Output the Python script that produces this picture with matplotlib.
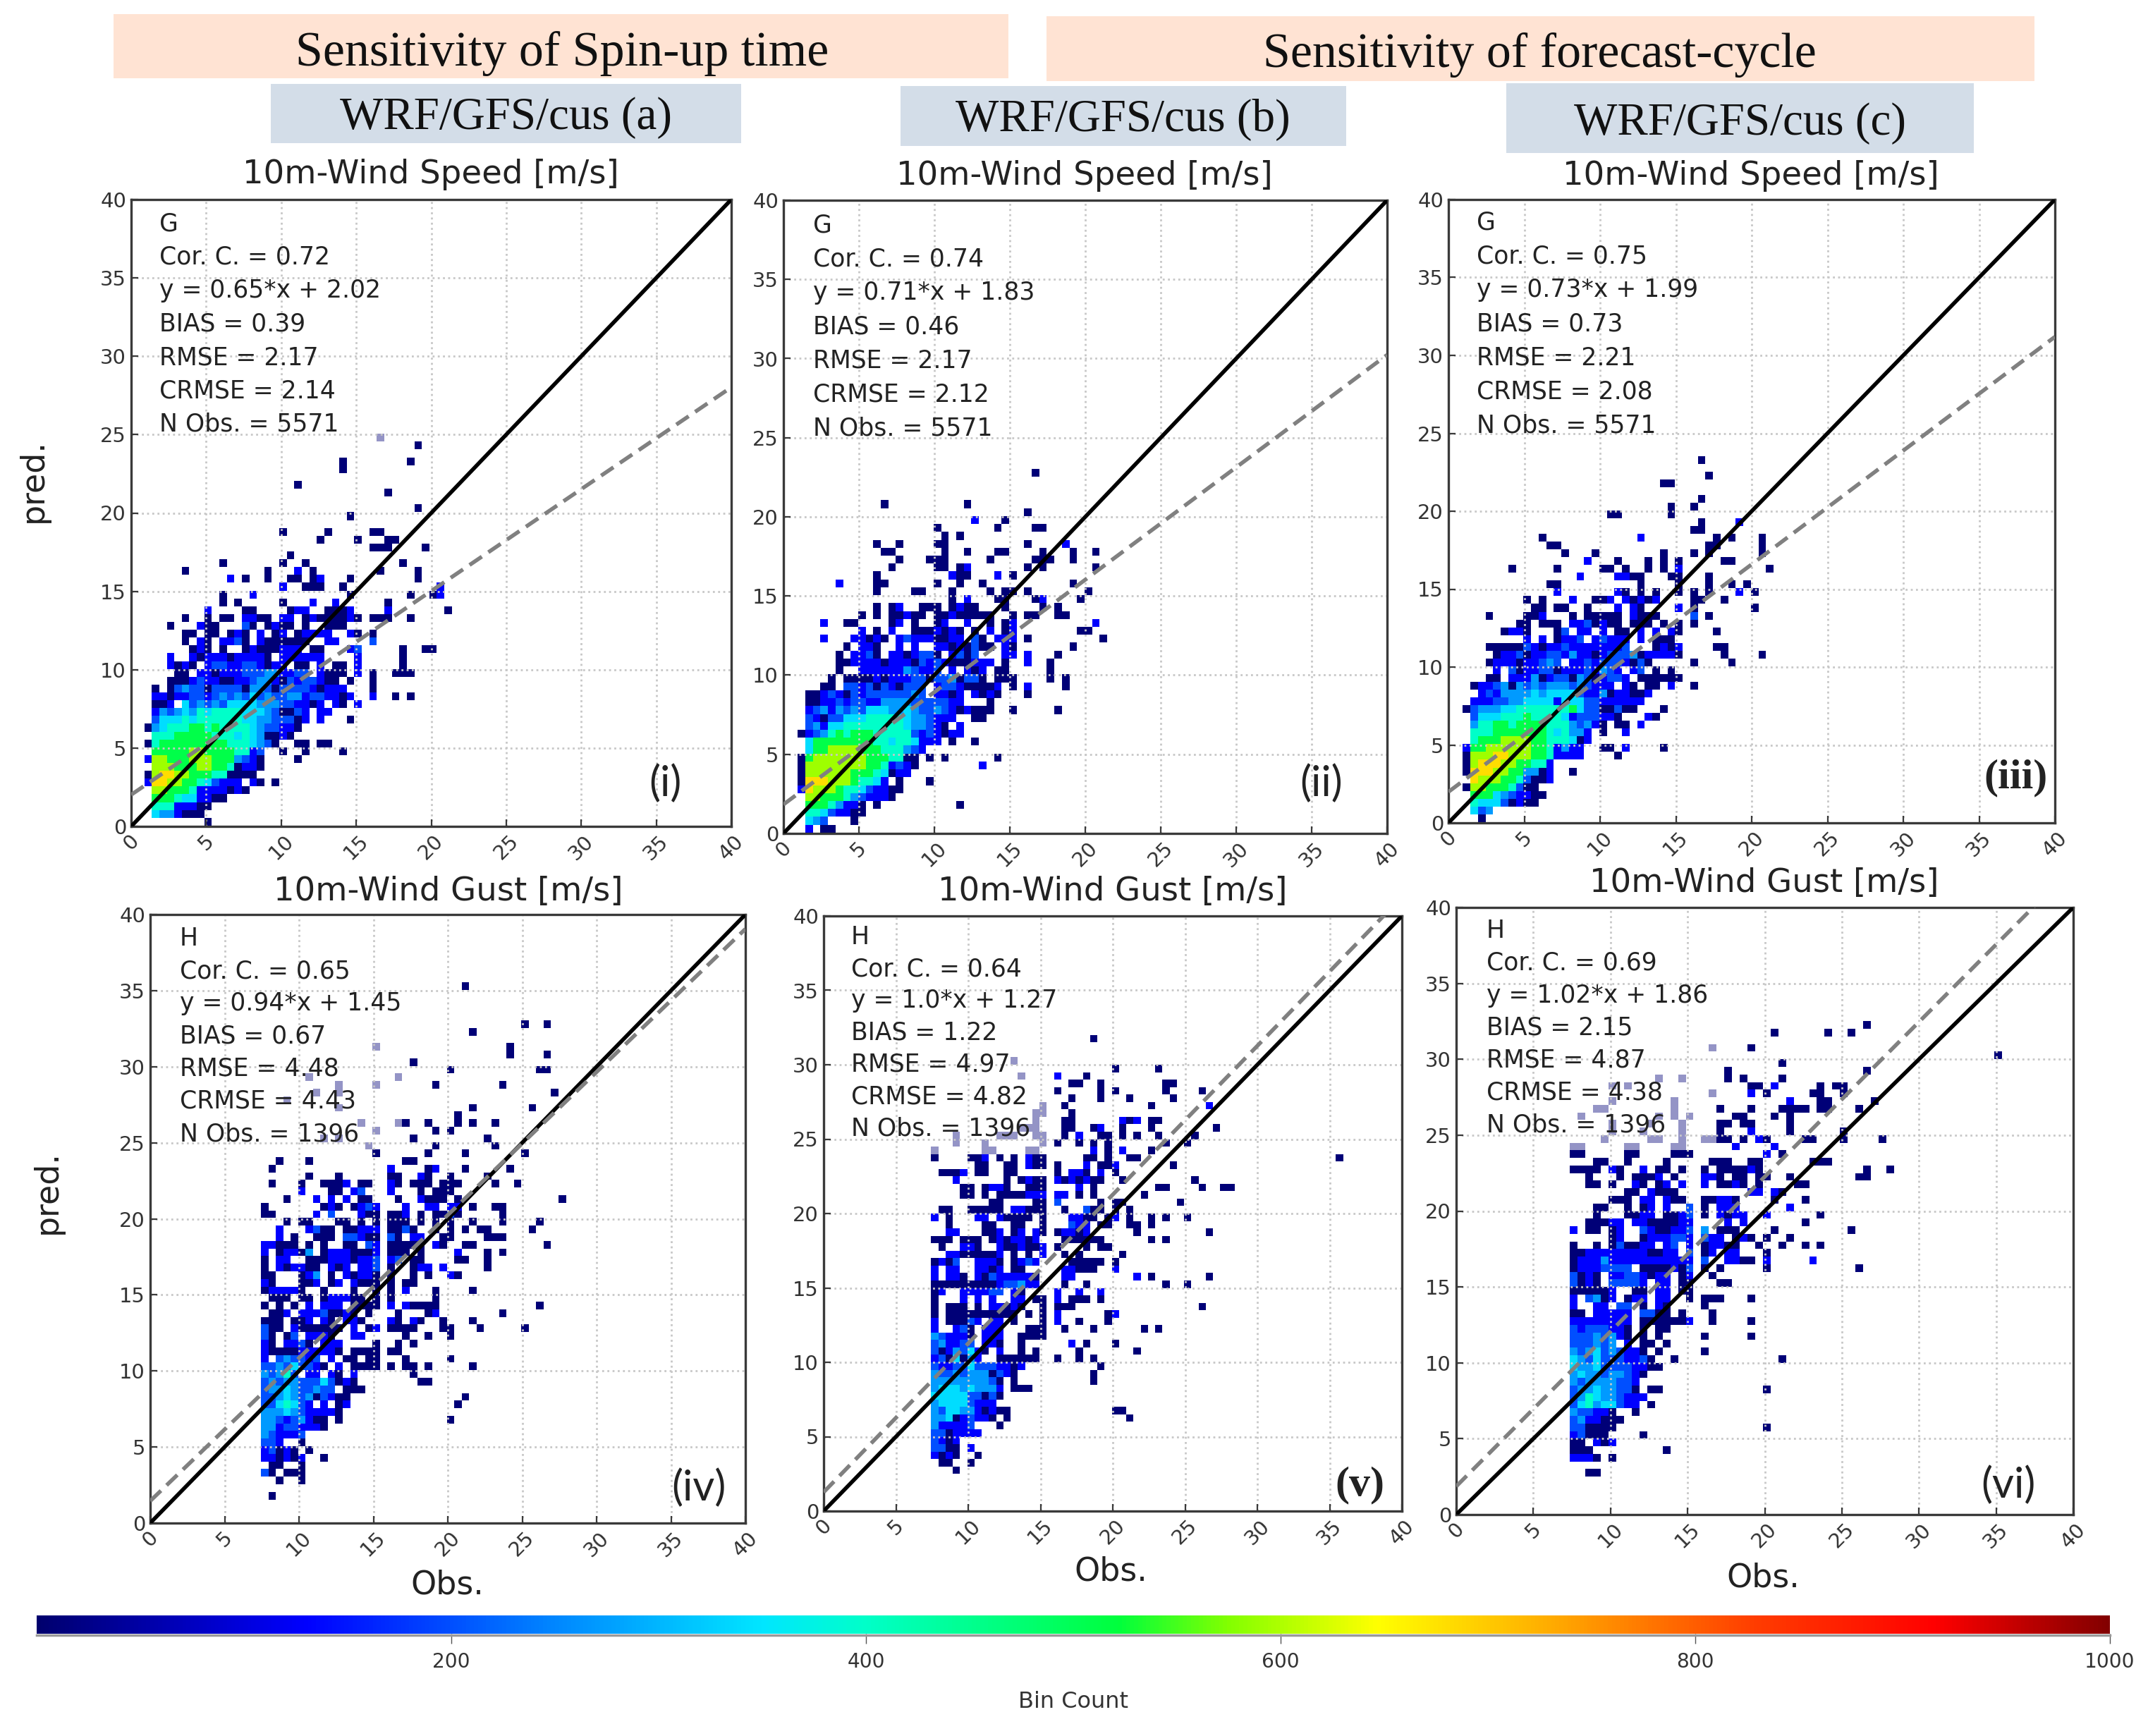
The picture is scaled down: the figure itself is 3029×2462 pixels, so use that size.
import numpy as np
import matplotlib
matplotlib.use("Agg")
import matplotlib.pyplot as plt
from matplotlib.colors import LinearSegmentedColormap
from matplotlib.lines import Line2D
from matplotlib.patches import Rectangle

W, H = 3029, 2462

# Bin counts. Each row: {row: "column:levels ..."}; a level is a colour class.
LEVEL_COUNTS = {"1": 8, "2": 130, "3": 200, "4": 270, "5": 340, "6": 400, "7": 510, "8": 590, "9": 680, "a": 8}

bins_i = {
48: "31:a", 47: "36:1", 45: "26:1 35:1", 44: "26:1", 42: "20:1", 41: "32:1", 39: "36:1", 38: "27:1",
36: "18:1 24:1 30:11", 35: "23:1 28:1 32:11", 34: "30:111 37:1", 33: "19:1", 32: "10:1 18:1 21:1 34:1",
31: "5:1 16:1 20:2 22:1 31:1 36:1", 30: "11:2 13:1 16:1 19:11 22:12 27:1 36:1", 29: "18:2 21:111 26:1 39:2",
28: "10:1 14:2 27:1 35:1 38:12", 27: "10:1 12:1 18:1 22:2 25:2 32:1",
26: "8:2 13:11 19:1 20:22 24:1112 32:2 40:1", 25: "5:1 8:1 10:11 13:2211 18:22 21:1 22:211 25:11 27:21 30:111 35:1",
24: "3:1 7:2 8:11 13:31 16:12 18:11 21:1 24:111", 23: "5:11 8:11 11:12 13:1 15:2 17:12 20:12222 27:21 30:1",
22: "5:1 7:21 10:2231 15:2111111 24:22 30:3", 21: "6:121 10:1 13:12111222 22:11 27:23 34:1 37:11",
20: "3:2 6:21 8:222122221 18:22 20:2222 28:2 34:1", 19: "3:2121 8:23322332122 20:11 23:2 25:11 28:2 34:1",
18: "4:11 7:221222333442233 23:2 24:111 28:2 30:1 33:111", 17: "3:111 6:23221122344213233211 27:1 30:1",
16: "1:1 3:134331333314431333321222 30:1", 15: "1:221223323434353433442332212 30:2 33:1 35:1",
14: "1:112 5:5343435555444332212 25:21 28:2", 13: "1:243454656666555431132 23:22",
12: "1:355565666666554433312 23:2 27:1", 11: "0:145666776766665433221",
10: "1:6667777766656541121", 9: "0:167777777776665431 20:11 23:11",
8: "1:777778877776623 18:1 21:1 26:1", 7: "0:2887778887774321 20:1",
6: "1:888777887761221", 5: "0:189988777661111", 4: "0:2998877653222 14:21 17:1",
3: "1:8877762222121", 2: "1:7776552211", 1: "1:66622211", 0: "1:5442111", -1: "8:1",
}

bins_ii = {
45: "31:1", 41: "11:1 22:1", 40: "30:1", 39: "23:2 27:1", 38: "18:1 26:1 31:11", 37: "19:1 21:1",
36: "10:1 13:1 18:11 30:1 35:2", 35: "11:11 19:1 22:1 26:11 32:1 36:1 39:1", 34: "13:1 17:111 25:1 31:111 36:1",
33: "12:1 18:11 21:1 22:2 30:1 32:1 39:1", 32: "10:1 20:211 26:2 28:1", 31: "5:2 10:11 18:1 21:1 24:1 36:1",
30: "10:1 15:11 20:1 25:1 27:11 30:1 38:1", 29: "20:1 22:2 26:11 31:1 32:2 37:1",
28: "10:1 12:12 16:111 20:1 21:211 27:1 32:1 34:1", 27: "8:1 10:1 12:11211 18:11211111 28:1 30:11 34:11",
26: "3:2 6:11 12:12 15:1 18:12 22:2 25:1 27:12 39:2", 25: "8:2 10:1 12:2 15:111 18:2121 23:1 25:2 27:12 37:11",
24: "3:2 7:22121 13:232221122 23:31 26:222 30:1 40:1", 23: "6:1 8:221 13:2 15:2 18:22121311 27:21 36:1",
22: "5:1 7:2231 12:2212 16:331 20:2313 27:22 30:2 34:1", 21: "5:112222122213232111222 27:1 30:2 33:1",
20: "5:1 8:222222 14:43223 20:2 22:212 26:11 33:1", 19: "4:1 6:1111212223313341331 26:111 33:1 35:1",
18: "3:11 6:33231321333 18:233211112 28:1 30:2 35:1", 17: "1:1123213233333343 18:2212 23:2121 30:1",
16: "1:112232332244443333322 25:1", 15: "1:2342434355544543343212111 28:1 34:1",
14: "1:32133555666665443222 23:11", 13: "1:3425566666666544321 21:2",
12: "0:1234676777666663232122", 11: "1:577777777665665222 20:1 23:1",
10: "1:5778888777666432", 9: "0:1788888887776611 17:1 19:1 26:1",
8: "0:1888888887762321 24:2", 7: "0:188888877765122",
6: "0:19998887665 11:2 13:1 17:1", 5: "0:29888766532211",
4: "1:887776432221", 3: "1:777 4:64 6:22 8:1 10:1 21:1", 2: "1:66532211", 1: "1:543 7:1", 0: "1:2 3:11",
}

bins_iii = {
46: "31:1", 44: "32:1", 43: "26:11", 41: "31:1", 40: "27:1 30:1", 39: "19:11 27:1", 38: "31:1 36:2", 37: "30:11",
36: "10:1 23:2 33:1 35:1 39:1", 35: "11:11 32:11 39:1", 34: "13:1 17:1 26:1 30:1 32:1 39:1",
33: "16:2 20:1 24:1 26:1 28:1 34:11", 32: "6:1 12:1 18:11 21:1 24:1 26:1 28:2 40:1", 31: "15:2 20:22 22:11 27:11 32:1",
30: "11:11 23:1 28:1 32:1 35:1 37:1", 29: "12:2 20:21 23:1 25:1 28:1 30:1 32:1 36:2 38:1",
28: "8:1 10:1 14:2 17:11 19:2 21:21 23:212 30:11 34:1", 27: "9:11 12:11 16:1 20:2 22:2 23:1 28:2 30:1 38:1",
26: "3:1 8:1 9:12 14:1 16:11 18:111 22:2 23:1 24:11 30:3 32:1", 25: "7:11 10:111 14:22 16:31 18:21 20:1 22:1 23:11 26:1 28:1 30:1",
24: "5:1 6:22 8:1 12:1 13:3 15:22 18:2 20:11 23:2 25:2 27:21 33:1", 23: "8:2 10:2 12:1 13:223 17:2 18:3 19:22 21:2 23:2 25:111",
22: "3:11111 8:321 11:223 14:22 16:22222 21:3 25:121 28:2 33:11", 21: "4:1223122332422123334122221 34:1 39:1",
20: "3:1222122343 14:2232333213 24:1 30:1 35:1", 19: "4:2 6:31 8:22 10:33 12:1 13:222 16:32432 22:23 25:1 27:1",
18: "3:11 6:2224123314312332 23:1 24:11111", 17: "1:1223414343444343222 21:21 24:11 27:2 30:1",
16: "2:23244445455553224122112", 15: "1:22233445555255533222222", 14: "0:13444556666666753311311 26:1",
13: "1:35556667666652333221 24:21", 12: "1:466776777766643421 20:11 23:2",
11: "1:6667777777656442 18:1 21:2", 10: "1:6777888877666512",
9: "0:2778888887762422 18:11 21:2 26:1", 8: "0:1888998887762222 20:1",
7: "0:189998877662", 6: "0:199988774412 14:1",
5: "1:98887763112", 4: "0:1887776311", 3: "1:7775432211", 2: "1:655531211", 1: "1:534", 0: "2:1",
}

bins_iv = {
67: "27:1", 62: "35:1 38:1", 61: "28:1", 59: "15:a 33:1", 58: "33:1 38:1", 57: "20:1", 56: "25:1 37:11",
55: "6:a 18:a", 54: "10:a 15:a 23:1 32:1", 53: "7:a 10:a 39:1", 52: "3:a", 51: "10:a 28:1 36:1", 50: "26:1",
49: "13:a 18:a 19:1 22:1 26:1 28:1 31:1", 48: "15:a 23:1 25:1", 47: "8:a 10:a 20:1 30:1", 46: "14:a 23:1 31:1",
45: "15:1 22:1 27:1 35:1", 44: "2:1 6:1 19:11", 43: "1:1 17:2 22:12 27:1 33:1", 42: "6:1 10:1 17:11 21:21 25:1 30:1",
41: "1:1 5:1 8:11 10:12 13:11 17:21 20:111 24:11 26:1 31:1 34:1", 40: "5:2 9:11 12:23 17:2 21:1 23:111",
39: "3:1 7:2 9:2 11:2 13:11 18:1 21:21 23:11 26:1 40:1", 38: "0:1 8:1 9:21 12:1232 19:2 22:22 25:22 28:1 31:11",
37: "0:11 7:2 9:3 13:21 15:1 17:11 19:2 21:1 23:1 24:1 25:31 32:1", 36: "3:1 5:11 10:11 13:1 15:1 17:111 21:1 23:1 25:1 28:1 32:1 37:1",
35: "2:2 6:231 8:11 11:11 13:22 15:2 17:113 20:1 23:1 25:1 27:1 29:11 36:1", 34: "2:2 4:1 7:11 9:1 11:33 13:21 15:1 17:3 18:1 20:22 24:1 25:1 30:111",
33: "0:22 2:111 6:1 8:1 11:1 12:1 14:3 15:2 17:111 20:11 23:2 24:1 27:11 38:1",
32: "0:2 2:1 3:22 5:1 6:4 8:1 9:2221 13:11 15:2 17:1 18:1 19:1 21:1 26:2 30:1 32:1",
31: "0:1 2:22 6:11 8:1 9:22 11:21 13:223 17:23 20:11 26:11 30:1", 30: "0:1 2:21 4:22 6:11 9:21 11:2 13:223 17:1 20:1 21:22 24:2 30:1",
29: "0:11 5:1 6:24 9:1 11:21 13:221 17:1 20:1 22:1 25:21", 28: "0:21 5:112 9:12 12:2 13:111 17:1 19:11",
27: "0:12222 5:1 8:1 12:1 15:1 17:1 19:2 23:1 28:1", 26: "1:111 5:11 8:1 9:2 10:2 11:2 12:11 15:1 17:1 23:1",
25: "0:1 2:1 4:1 6:2 8:2 9:22 12:11 14:11 17:2 19:21111 37:1", 24: "1:112 5:222 8:3 9:112 12:1 14:1 18:1 22:1 23:2 32:1",
23: "0:111 4:11 6:2 8:21 11:22 13:1 17:21 20:21 24:1 28:1", 22: "0:311 4:21 6:111 9:11 12:2 14:12 17:111 20:1 24:11 29:1 35:1",
21: "0:31 3:13 6:222 9:1 12:22 19:1 22:1 25:1", 20: "0:21 3:223 6:1 8:222 15:1 18:1 20:1", 19: "0:21111 5:222 8:221 12:1111 17:11",
18: "0:2 2:3433 6:23 9:2 11:1 12:1 14:11 19:1 25:1", 17: "0:334353 6:321 10:2 12:111 15:1 17:1 19:11 22:1 28:1",
16: "0:434 3:63 6:22 9:21 12:2 20:1", 15: "0:343443 6:335 9:31 11:21 21:11", 14: "0:344 3:543 6:343 9:3 11:111",
13: "0:33454341 8:321 11:1 27:1", 12: "0:3356532 8:2 10:12 26:1", 11: "0:444 3:543 6:22221 10:1",
10: "0:443 3:234 6:211 10:1 25:1", 9: "0:44233 5:2221", 8: "0:432223", 7: "0:33 2:2 5:1", 6: "0:23 2:12 4:1 6:1",
5: "0:22 2:12 4:12 8:1", 4: "1:11 5:1", 3: "0:31 3:111", 2: "2:1 5:1", 0: "1:1",
}

bins_v = {
58: "22:1", 55: "11:a", 54: "25:1 31:1", 53: "12:a 17:2 21:1", 52: "19:11 23:1 32:11", 51: "17:1 23:1 25:1 32:1 37:1",
50: "19:1 23:1 27:1 33:1", 49: "15:a 18:1 30:1 38:2", 48: "14:aa 19:1", 47: "14:a 18:11 26:2 27:1 28:2 30:11",
46: "12:aaa 18:11 22:12 26:1 30:1 39:1", 45: "3:a 9:aaa 14:aa 18:1 20:2 23:11 26:1 28:1 31:1 36:1",
44: "3:a 7:a 15:a 17:1 20:1 22:1 24:1 32:1 35:1", 43: "0:a 7:aa 13:aa 22:2 24:1 26:2 30:1",
42: "0:1 5:112 9:1 11:1 13:211 21:11 24:1 27:11 56:1", 41: "6:11 10:11 13:211 17:1 21:2 23:112 33:1",
40: "1:1112 6:11 10:11 17:1 19:221 23:2 25:1", 39: "3:2 10:1 12:1 13:2 14:11 17:212 20:1 21:211 26:1 36:1",
38: "4:11 7:1 8:221 13:111 20:2 22:1 31:11 37:1 40:11", 37: "4:11 7:1 9:111 12:12 14:22 17:22 20:1 22:1 29:1",
36: "8:11 14:11 17:3 23:1 25:11 34:1", 35: "1:11 5:11111 11:22 13:111 18:1 21:311 25:1 27:1",
34: "0:2 2:1 6:22 9:21 11:111 15:1 19:221 22:1 24:12 27:1 30:1 32:1 35:1", 33: "2:1 7:11 11:11 15:1 19:32 21:2 23:11 27:11 30:1",
32: "2:22 7:11 9:2 11:12 14:21 17:1 18:22 20:12 28:1 38:1", 31: "0:111 4:111 8:1 9:2122 13:12 18:11 20:1111 30:1 32:1",
30: "1:1 4:221 9:211 12:2 13:11 15:2 17:1 21:1 23:11", 29: "2:22 4:11111 9:2 11:1 13:1 15:2 18:1 20:1 26:1",
28: "0:1213 6:22 8:21 11:1 12:232 19:11 21:111 25:1", 27: "0:2 2:22 6:22 8:12 11:1 12:1 18:22 20:111 25:2",
26: "0:2 2:221 6:213 9:222 12:22 14:1 18:22 28:2 30:1 38:1", 25: "0:11111 5:1111 9:23342 14:2 18:1 21:1 32:1 35:1",
24: "0:12 4:2222 8:33 11:2 12:1 17:2 20:2 23:2", 23: "0:1 4:2 6:2 8:2 11:22 14:11 17:2 19:111 23:1",
22: "0:1 2:111 6:1 8:221 11:21 15:1 17:11 19:1 37:1", 21: "0:1 2:1111 6:1 7:11 9:1 10:11 13:1 15:1 17:2 24:1 25:2",
20: "0:2 2:1113 6:2 8:22 11:1 15:1 17:2 20:1 24:1", 19: "0:2 3:231 7:222 13:11 15:1 18:1 22:1 29:1 31:1",
18: "0:4322 4:21 7:222 12:1 13:111", 17: "0:3422 4:33 7:221 12:1 19:2 21:1 25:1", 16: "0:3124 4:3521 9:2 12:1 14:1 20:1 28:1",
15: "0:2315 4:142 9:1111 13:11 17:1 20:1 22:1", 14: "0:3223 4:35 6:3332 10:2 11:1 12:2 23:1",
13: "0:4334 4:344 7:4 8:132 11:1 22:1", 12: "0:4444 4:4 5:444 8:31 11:1 22:1", 11: "0:4555 4:454 7:442 11:111",
10: "0:5555 4:5 5:331 8:31", 9: "0:455553222", 8: "0:4355 4:442 7:1 8:2 9:11 25:11", 7: "0:4451 4:232 7:21 10:1 27:1",
6: "0:422223 9:1", 5: "0:3312222", 4: "0:3212", 3: "0:3311 5:2", 2: "0:2121 6:1", 1: "1:11 5:1", 0: "3:1",
}

bins_vi = {
59: "38:1", 58: "26:1 33:1 36:1", 56: "18:a 23:1", 55: "55:1", 54: "27:1", 53: "20:1 38:1",
52: "11:a 14:a 20:1 22:1 27:1", 51: "5:a 7:a 23:11 26:2 32:1 34:11", 50: "18:a 23:2 25:1 31:11 35:1",
49: "5:a 13:a 28:2 32:11 39:1", 48: "3:aa 13:a 19:1 23:1 27:1 28:111 32:11 37:1", 47: "1:a 11:a 13:a 15:a 21:11 26:1 28:1",
46: "5:a 10:a 14:a 19:11 22:11 28:1", 45: "5:a 9:a 14:a 19:1 23:2 28:1 35:1", 44: "4:a 10:aa 14:a 17:aa 19:11 22:1 24:21 30:11 35:1 40:1",
43: "0:aa 7:aa 13:aa 21:2 26:2", 42: "0:11 7:11 13:11 15:1 25:2 27:1", 41: "3:11 7:1 12:1 18:111 23:11 31:111",
40: "0:111 3:1 5:21 9:2 11:11 14:1 17:1 19:1111 23:21 38:1 41:1", 39: "2:1 6:1 8:111 11:2 13:1 17:22 19:1 21:11 24:11 28:1 37:11",
38: "2:11 5:1 8:21 11:1 12:2 14:2 17:2 19:11 21:21 24:1 29:11", 37: "7:11 10:2 11:111 23:22 26:21",
36: "5:111 9:22 12:21 14:1 17:1 18:1 19:221 26:1 30:1", 35: "3:11 7:1 9:12 12:2 15:3 17:1 19:22 21:2 28:2",
34: "3:1 7:112 10:2 12:11 14:23 17:1 19:212 22:2 25:2 32:1", 33: "2:11122 8:22 10:1111 14:22 20:2 22:2 30:1",
32: "0:2 2:11 5:12 9:32 11:11 13:223 17:4 19:111 26:1 36:1", 31: "5:12 9:1222 13:332 17:322 21:1 22:21 25:1 28:1",
30: "0:1 3:1 5:13 7:11 9:22 12:23 15:2 17:1 18:22 20:11 24:1 27:1 30:1 32:1", 29: "0:11222 5:2222 9:2112 13:2 15:3 17:1 18:2 20:22 25:1",
28: "0:1 1:222 4:4 5:2222 9:2222 13:2 14:22 17:3 20:22 22:11 25:2 31:2", 27: "0:1 1:22 3:2 4:33 6:33 9:1111 13:21 15:3 17:1 19:1 25:1 37:1",
26: "0:312 3:1 5:22 7:33 9:212 12:2 14:12 18:1", 25: "0:312 3:1 5:33 7:33 9:2 11:22 14:11 19:11", 24: "0:11111 5:2 8:11 11:22 14:11",
23: "0:2 2:341 5:2 7:122 11:22 15:1 17:111 23:1", 22: "0:2 3:22 6:33 9:1 11:21 17:1", 21: "0:11 3:2222 7:2 9:33 11:11 14:1 18:1",
20: "0:222 3:22222 9:1 10:1 11:1 12:1 13:1 14:1 15:2 18:1 23:1", 19: "0:323 3:33 5:221 9:1 11:1 12:1", 18: "0:33343 5:421 9:1 11:1 17:1 23:1",
17: "0:33343 5:4 7:2 9:1 10:1 12:1", 16: "0:43453 5:4322 9:1 11:1 17:1", 15: "0:54353 5:33222 9:31 13:1 27:1", 14: "0:5445 4:33332 9:211",
13: "0:4544 4:3 5:4432 9:1", 12: "0:4344 4:4 5:4332", 11: "0:344 3:544 6:331 10:11 25:1", 10: "0:3465 4:4 5:43222", 9: "0:35 2:645 5:5322 10:1",
8: "0:433221 8:1", 7: "0:34221 5:11", 6: "0:33111 5:1 25:1", 5: "0:23111 9:1", 4: "0:11 3:212", 3: "0:111 12:1", 2: "0:2221 5:1", 0: "2:11",
}

panel_bins = [bins_i, bins_ii, bins_iii, bins_iv, bins_v, bins_vi]
grid_x0 = [0.875, 0.95, 0.95, 7.44, 7.43, 7.38]
grid_y0 = [0.55, 0.05, 0.05, 1.55, 2.5, 2.5]
bin_width = 0.5

station = ["G", "G", "G", "H", "H", "H"]
corr = ["0.72", "0.74", "0.75", "0.65", "0.64", "0.69"]
slope = [0.65, 0.71, 0.73, 0.94, 1.0, 1.02]
intercept = [2.02, 1.83, 1.99, 1.45, 1.27, 1.86]
bias = ["0.39", "0.46", "0.73", "0.67", "1.22", "2.15"]
rmse = ["2.17", "2.17", "2.21", "4.48", "4.97", "4.87"]
crmse = ["2.14", "2.12", "2.08", "4.43", "4.82", "4.38"]
nobs = ["5571", "5571", "5571", "1396", "1396", "1396"]
titles = ["10m-Wind Speed [m/s]"] * 3 + ["10m-Wind Gust [m/s]"] * 3
tags = ["(i)", "(ii)", "(iii)", "(iv)", "(v)", "(vi)"]
ticks = [0, 5, 10, 15, 20, 25, 30, 35, 40]
cbar_ticks = [200, 400, 600, 800, 1000]
group_titles = ["Sensitivity of Spin-up time", "Sensitivity of forecast-cycle"]
run_titles = ["WRF/GFS/cus (a)", "WRF/GFS/cus (b)", "WRF/GFS/cus (c)"]

# layout in reference pixels
ax_box = [(186, 1037, 283, 1172), (1111, 1967, 284, 1182), (2054, 2914, 283, 1167),
          (213, 1057, 1297, 2160), (1168, 1988, 1299, 2143), (2065, 2940, 1287, 2148)]
title_xy = [(611, 248), (1538, 250), (2483, 250), (636, 1265), (1578, 1265), (2502, 1253)]
note_xy = [(226, 317, 47.5), (1153, 319, 48), (2094, 315, 48), (255, 1331, 46.2), (1207, 1329, 45.2), (2108, 1320, 46)]
tag_xy = [(943, 1111), (1874, 1111), (2859, 1103), (991, 2110), (1928, 2106), (2848, 2106)]
obs_xy = [(634, 2248), (1575, 2229), (2500, 2238)]
pred_xy = [(47, 682), (67, 1690)]
group_box = [(161, 1430, 20, 111, 797, 76), (1484, 2885, 23, 115, 2183, 78)]
run_box = [(384, 1051, 119, 203, 718, 167), (1277, 1909, 122, 207, 1592, 170), (2136, 2799, 118, 217, 2468, 175)]

stops = [(0.0, "#00006e"), (0.13, "#0000ff"), (0.245, "#0082ff"), (0.35, "#00e6ff"), (0.40, "#00ffc8"),
         (0.522, "#00ff3c"), (0.575, "#82ff00"), (0.647, "#ffff00"), (0.732, "#ffaa00"), (0.83, "#ff3c00"),
         (0.916, "#ff0000"), (1.0, "#820000")]
cmap = LinearSegmentedColormap.from_list("bincount", stops, N=512)


def fx(x):
    return x / W


def fy(y):
    return 1 - y / H


def decode(rows):
    solid = np.full((82, 90), np.nan)
    faint = np.full((82, 90), np.nan)
    for row, spec in rows.items():
        for group in spec.split():
            start, levels = group.split(":")
            for k, ch in enumerate(levels):
                target = faint if ch == "a" else solid
                target[row + 1, int(start) + k] = LEVEL_COUNTS[ch]
    return np.ma.masked_invalid(solid), np.ma.masked_invalid(faint)


fig = plt.figure(figsize=(W / 100, H / 100), dpi=100, facecolor="white")
PX = 0.72  # points per reference pixel
SPINE = "#3a3a3a"
mesh = None

for (x0, x1, y0, y1, tx, ty), txt in zip(group_box, group_titles):
    fig.patches.append(Rectangle((fx(x0), fy(y1)), (x1 - x0) / W, (y1 - y0) / H, transform=fig.transFigure,
                                 facecolor="#ffe3d3", edgecolor="none"))
    fig.text(fx(tx), fy(ty), txt, family="Liberation Serif", fontsize=70 * PX,
             ha="center", va="center", color="#111111")
for (x0, x1, y0, y1, tx, ty), txt in zip(run_box, run_titles):
    fig.patches.append(Rectangle((fx(x0), fy(y1)), (x1 - x0) / W, (y1 - y0) / H, transform=fig.transFigure,
                                 facecolor="#d3dde8", edgecolor="none"))
    fig.text(fx(tx), fy(ty), txt, family="Liberation Serif", fontsize=65 * PX, ha="center", va="center", color="#111111")

for p, rows in enumerate(panel_bins):
    L, R, T, B = ax_box[p]
    ax = fig.add_axes([fx(L), fy(B), (R - L) / W, (B - T) / H])
    solid, faint = decode(rows)
    xe = grid_x0[p] + bin_width * np.arange(solid.shape[1] + 1)
    ye = grid_y0[p] - bin_width + bin_width * np.arange(solid.shape[0] + 1)
    mesh = ax.pcolormesh(xe, ye, solid, cmap=cmap, vmin=0, vmax=1000, zorder=1, antialiased=False, linewidth=0)
    ax.pcolormesh(xe, ye, faint, cmap=cmap, vmin=0, vmax=1000, alpha=0.42, zorder=1, antialiased=False, linewidth=0)
    ax.set_xlim(ticks[0], ticks[-1])
    ax.set_ylim(ticks[0], ticks[-1])
    ax.set_xticks(ticks)
    ax.set_yticks(ticks)
    ax.grid(True, color="#c8c8c8", linestyle=":", linewidth=2.0, zorder=1.5)
    ax.tick_params(direction="in", length=7, width=1.6, color=SPINE, labelsize=29 * PX, labelcolor="#333333", pad=5)
    ax.tick_params(axis="x", labelrotation=45)
    for s in ax.spines.values():
        s.set_linewidth(2.4)
        s.set_color(SPINE)
    diag = np.array([ticks[0], ticks[-1]], dtype=float)
    ax.plot(diag, diag, color="black", lw=4.0, zorder=3)
    ax.plot(diag, slope[p] * diag + intercept[p], color="#808080", lw=4.0, ls=(0, (3.8, 2.0)), zorder=3)

    fig.text(fx(title_xy[p][0]), fy(title_xy[p][1]), titles[p], fontsize=46.5 * PX, ha="center", va="center", color="#222222")
    nx, ny, gap = note_xy[p]
    lines = [station[p], f"Cor. C. = {corr[p]}", f"y = {slope[p]}*x + {intercept[p]:.2f}", f"BIAS = {bias[p]}",
             f"RMSE = {rmse[p]}", f"CRMSE = {crmse[p]}", f"N Obs. = {nobs[p]}"]
    for k, line in enumerate(lines):
        fig.text(fx(nx), fy(ny + k * gap), line, fontsize=34.6 * PX, ha="left", va="center", color="#222222", zorder=6)
    bold = tags[p] in ("(iii)", "(v)")
    fig.text(fx(tag_xy[p][0]), fy(tag_xy[p][1]), tags[p], fontsize=60 * PX, ha="center", va="center", color="#222222",
             family="Liberation Serif" if bold else "Lato", fontweight="bold" if bold else "normal", zorder=6)

for (x, y) in obs_xy:
    fig.text(fx(x), fy(y), "Obs.", fontsize=46 * PX, ha="center", va="center", color="#222222")
for (x, y) in pred_xy:
    fig.text(fx(x), fy(y), "pred.", fontsize=46 * PX, rotation=90, ha="center", va="center", color="#222222")

cax = fig.add_axes([fx(52), fy(2317), (2992 - 52) / W, 26 / H])
cb = fig.colorbar(mesh, cax=cax, orientation="horizontal", ticks=cbar_ticks)
cb.outline.set_visible(False)
cb.ax.tick_params(length=10, width=1.0, color="#555555", labelsize=28 * PX, labelcolor="#333333", pad=9)
fig.add_artist(Line2D([fx(52), fx(2992)], [fy(2319), fy(2319)], color="#9a9a9a", lw=2.5))
fig.text(fx(1522), fy(2414), "Bin Count", fontsize=32 * PX, ha="center", va="center", color="#333333")

fig.savefig("out.png", dpi=100, facecolor="white")
